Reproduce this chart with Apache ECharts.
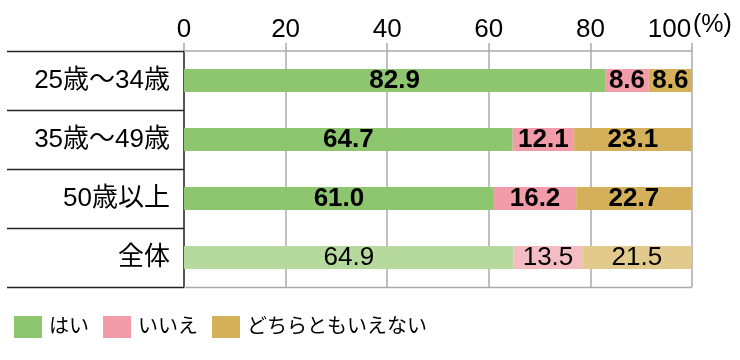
<!DOCTYPE html>
<html><head><meta charset="utf-8">
<script src="https://cdn.jsdelivr.net/npm/echarts@6/dist/echarts.min.js"></script>
<style>html,body{margin:0;padding:0;background:#fff}#c{width:740px;height:360px}</style>
</head><body><div id="c"></div>
<script>
const categories = ['25歳～34歳', '35歳～49歳', '50歳以上', '全体'];
const seriesNames = ['はい', 'いいえ', 'どちらともいえない'];
const yesValues = [82.9, 64.7, 61.0, 64.9];
const noValues = [8.6, 12.1, 16.2, 13.5];
const neitherValues = [8.6, 23.1, 22.7, 21.5];
const xTicks = [0, 20, 40, 60, 80, 100];

const FONT = '"Liberation Sans", "Noto Sans CJK JP", sans-serif';
const colors = ['#8dc66e', '#f19ca8', '#d4b05b'];
const lightColors = ['#b6d99e', '#f6bcc4', '#e2ca8d'];
const allValues = [yesValues, noValues, neitherValues];

const chart = echarts.init(document.getElementById('c'));
const GRID = {left: 184, right: 48, top: 51, bottom: 73};

const series = seriesNames.map((name, si) => ({
  name, type: 'bar', stack: 'total', barWidth: 23,
  itemStyle: {color: colors[si]},
  label: {
    show: true, position: 'inside', color: '#000', fontSize: 26, fontFamily: FONT,
    formatter: p => p.value.toFixed(1)
  },
  data: allValues[si].map((v, i) => {
    const last = i === categories.length - 1;
    return {
      value: v,
      itemStyle: {color: last ? lightColors[si] : colors[si]},
      label: {fontWeight: last ? 'normal' : 'bold'}
    };
  })
}));

const H = 360 - GRID.top - GRID.bottom;
const band = H / categories.length;
const graphics = [];
for (let i = 0; i <= categories.length; i++) {
  const y = Math.round(GRID.top + band * i) + 0.5;
  graphics.push({type: 'line', shape: {x1: 7, y1: y, x2: GRID.left, y2: y}, style: {stroke: '#222', lineWidth: 1.5}, z: 10});
}
graphics.push({type: 'line', shape: {x1: GRID.left, y1: 360 - GRID.bottom + 0.5, x2: 740 - GRID.right, y2: 360 - GRID.bottom + 0.5}, style: {stroke: '#aaa', lineWidth: 1.5}, z: 10});
graphics.push({type: 'text', left: 693, top: 13, style: {text: '(%)', fontSize: 25, fontFamily: FONT, fill: '#000'}});

chart.setOption({
  animation: false,
  textStyle: {fontFamily: FONT},
  grid: GRID,
  xAxis: {
    type: 'value', position: 'top', min: 0, max: 100, interval: 20,
    axisLine: {show: true, lineStyle: {color: '#aaa', width: 1.5}},
    axisTick: {show: true, length: 8, lineStyle: {color: '#aaa', width: 1.5}},
    splitLine: {show: true, lineStyle: {color: '#aaa', width: 1.5}},
    axisLabel: {color: '#000', fontSize: 26, margin: 8, fontFamily: FONT,
      formatter: v => v === 100 ? '{p|100}' : (xTicks.includes(v) ? String(v) : ''),
      rich: {p: {fontSize: 26, fontFamily: FONT, color: '#000', padding: [0, 45, 0, 0]}}}
  },
  yAxis: {
    type: 'category', inverse: true, data: categories,
    axisLine: {show: true, lineStyle: {color: '#333', width: 1.5}},
    axisTick: {show: false},
    axisLabel: {color: '#000', fontSize: 26, margin: 14, fontFamily: FONT}
  },
  legend: {
    left: 9, top: 311, itemWidth: 28, itemHeight: 22, itemGap: 14,
    icon: 'rect', textStyle: {fontSize: 20, color: '#000', fontFamily: FONT, padding: [0, 0, 0, 2]},
    data: seriesNames
  },
  series,
  graphic: graphics
});
</script></body></html>
